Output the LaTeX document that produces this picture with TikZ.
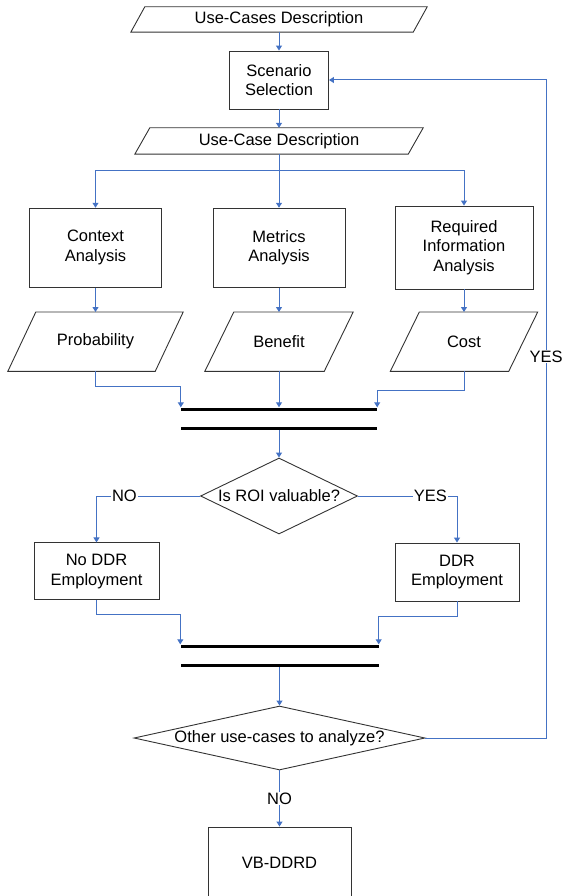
\documentclass[tikz,border=0pt]{standalone}
\usepackage{fontspec}
\setmainfont{Liberation Sans}
\usetikzlibrary{shapes.geometric, arrows.meta, positioning, calc}
\definecolor{flowblue}{HTML}{4472C4}
\definecolor{edgegray}{HTML}{333333}

\begin{document}
\begin{tikzpicture}[x=1pt, y=-1pt,
    every node/.style={font=\fontsize{16.5}{19.5}\selectfont, align=center},
    edge/.style={draw=edgegray, line width=0.9pt},
    proc/.style={edge, rectangle, inner sep=0pt},
    io/.style={rectangle, inner sep=0pt},
    decide/.style={edge, diamond, inner sep=0pt},
    bar/.style={fill=black, rectangle, inner sep=0pt, minimum height=3pt},
    flow/.style={draw=flowblue, line width=1pt, -{Triangle[length=5pt,width=6pt]}},
    tag/.style={fill=white, inner sep=1pt}]
    \useasboundingbox (0,0) rectangle (562,896);

    \node[io, minimum width=282, minimum height=25] (ucs) at (279,19.5) {Use-Cases Description};
    \node[proc, minimum width=99, minimum height=58] (scen) at (279,80) {Scenario\\Selection};
    \node[io, minimum width=273, minimum height=26] (uc) at (279,141) {Use-Case Description};

    \node[proc, minimum width=132, minimum height=79] (ctx) at (95.5,247.7) {Context\\Analysis};
    \node[proc, minimum width=132, minimum height=79] (met) at (279,247.7) {Metrics\\Analysis};
    \node[proc, minimum width=138, minimum height=83] (req) at (464,247.5) {Required\\Information\\Analysis};

    \node[io, minimum width=147, minimum height=59] (prob) at (95.5,341.7) {Probability};
    \node[io, minimum width=119, minimum height=59] (ben) at (279,341.7) {Benefit};
    \node[io, minimum width=118, minimum height=59] (cost) at (464,341.7) {Cost};

    % slanted outlines of the data nodes
    \foreach \n/\s in {ucs/7, uc/7.5, prob/14, ben/14.5, cost/14.5}
        \draw[edge] ([xshift=-\s]\n.south west) -- ([xshift=\s]\n.north west)
            -- ([xshift=\s]\n.north east) -- ([xshift=-\s]\n.south east) -- cycle;

    \node[bar, minimum width=196] (join1) at (279,409) {};
    \node[bar, minimum width=196] (join2) at (279,428.7) {};

    \node[decide, minimum width=157, minimum height=76, aspect=2.07] (roi) at (279,496) {Is ROI valuable?};
    \node[proc, minimum width=125, minimum height=57] (nodr) at (96.5,571.4) {No DDR\\Employment};
    \node[proc, minimum width=124, minimum height=58] (ddr) at (457,572) {DDR\\Employment};

    \node[bar, minimum width=198] (join3) at (279.5,646) {};
    \node[bar, minimum width=198] (join4) at (279.5,665.7) {};

    \node[decide, minimum width=291, minimum height=64, aspect=4.55] (other) at (279.5,738) {Other use-cases to analyze?};
    \node[proc, minimum width=143, minimum height=72] (vb) at (279.5,863) {VB-DDRD};
    \coordinate (loop) at (546,80);

    % connectors
    \draw[flow] (ucs.south) -- (scen.north);
    \draw[flow] (scen.south) -- (uc.north);
    \draw[flow] (uc.south) -- ++(0,16) -| (ctx.north);
    \draw[flow] (uc.south) -- (met.north);
    \draw[flow] (uc.south) -- ++(0,16) -| (req.north);

    \draw[flow] (ctx) -- (prob);
    \draw[flow] (met) -- (ben);
    \draw[flow] (req) -- (cost);

    \draw[flow] (prob.south) -- ++(0,15) -| (join1.north west);
    \draw[flow] (ben.south) -- (join1.north);
    \draw[flow] (cost.south) -- ++(0,19) -| (join1.north east);
    \draw[flow] (join2.south) -- (roi.north);

    \draw[flow] (roi.west) -| node[tag, pos=0.365] {NO} (nodr.north);
    \draw[flow] (roi.east) -| node[tag, pos=0.365] {YES} (ddr.north);
    \draw[flow] (nodr.south) -- ++(0,14) -| (join3.north west);
    \draw[flow] (ddr.south) -- ++(0,15) -| (join3.north east);
    \draw[flow] (join4.south) -- (other.north);

    \draw[flow] (other.south) -- node[tag] {NO} (vb.north);
    \draw[flow] (other.east) -| node[tag, pos=0.79] {YES} (loop) -- (scen.east);
\end{tikzpicture}
\end{document}
